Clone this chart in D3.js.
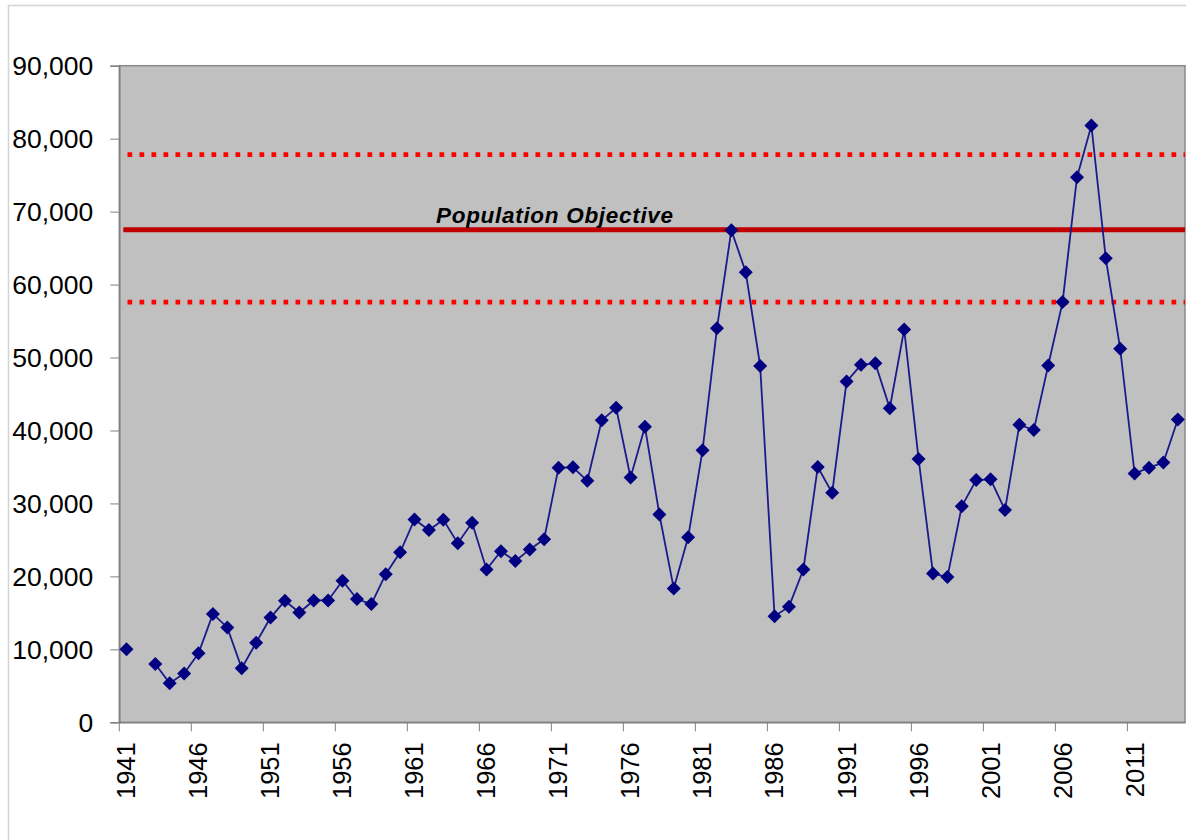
<!DOCTYPE html>
<meta charset="utf-8">
<style>
body { margin: 0; background: #fff; }
.axis text { font-family: "Liberation Sans", Arial, sans-serif; fill: #000; }
.axis path, .axis line { stroke: #808080; }
</style>
<body>
<script src="https://d3js.org/d3.v7.min.js"></script>
<script>

// yearly counts, 1942 has no value
var years = d3.range(1941, 2015);
var counts = [
  10000, null, 8000, 5350, 6700, 9450, 14850, 13000, 7400, 10900,
  14350, 16650, 15050, 16700, 16700, 19400, 16900, 16200, 20300, 23300,
  27800, 26350, 27750, 24550, 27350, 20950, 23450, 22100, 23700, 25100,
  34900, 34950, 33100, 41400, 43100, 33550, 40500, 28500, 18350, 25350,
  37300, 54000, 67450, 61700, 48850, 14550, 15850, 20950, 35000, 31450,
  46700, 49000, 49200, 43050, 53850, 36100, 20400, 19900, 29600, 33200,
  33300, 29100, 40800, 40050, 48900, 57600, 74700, 81800, 63600, 51200,
  34100, 34900, 35600, 41500
];
var labelYears = d3.range(1941, 2015, 5);
var yTicks = d3.range(0, 90001, 10000);

var objective = 67500;
var bandLow = 57600, bandHigh = 77800;

var W = 1186, H = 840;
var plot = {left: 119.3, top: 65.7, right: 1185, bottom: 722.3};

var svg = d3.select("body").append("svg")
    .attr("width", W)
    .attr("height", H);

// chart frame
svg.append("path")
    .attr("d", "M8.5," + H + "V5.5H" + W)
    .attr("fill", "none")
    .attr("stroke", "#d4d4d4")
    .attr("stroke-width", 1.5);

var x = d3.scaleBand()
    .domain(years)
    .range([plot.left, plot.right])
    .paddingInner(0).paddingOuter(0);

var y = d3.scaleLinear()
    .domain([0, 90000])
    .range([plot.bottom, plot.top]);

// plot area
svg.append("rect")
    .attr("x", plot.left)
    .attr("y", plot.top)
    .attr("width", plot.right - plot.left)
    .attr("height", plot.bottom - plot.top)
    .attr("fill", "#c0c0c0")
    .attr("stroke", "#8a8a8a")
    .attr("stroke-width", 1.5);

// reference lines
svg.append("line")
    .attr("x1", plot.left + 4).attr("x2", plot.right)
    .attr("y1", y(objective)).attr("y2", y(objective))
    .attr("stroke", "#c00000")
    .attr("stroke-width", 5);

[bandLow, bandHigh].forEach(function(v) {
  svg.append("line")
      .attr("x1", x(1941) + x.bandwidth() / 2 + 1).attr("x2", plot.right)
      .attr("y1", y(v)).attr("y2", y(v))
      .attr("stroke", "#ff0000")
      .attr("stroke-width", 4.7)
      .attr("stroke-dasharray", "4.7,7.3");
});

svg.append("text")
    .attr("x", 436)
    .attr("y", y(objective) - 6.5)
    .attr("font-family", "'Liberation Sans', Arial, sans-serif")
    .attr("font-size", 22.5)
    .attr("font-weight", "bold")
    .attr("font-style", "italic")
    .attr("letter-spacing", 0.7)
    .text("Population Objective");

// y axis
svg.append("g")
    .attr("class", "axis")
    .attr("transform", "translate(" + plot.left + ",0)")
    .call(d3.axisLeft(y)
        .tickValues(yTicks)
        .tickSize(9)
        .tickPadding(17)
        .tickFormat(d3.format(",")))
    .call(function(g) {
      g.selectAll("text").attr("font-size", 26.5).attr("dy", "0.35em");
      g.select(".domain").attr("stroke-width", 1.5);
    });

// x axis: labels centred in categories, tick marks on boundaries
var xAxis = svg.append("g")
    .attr("class", "axis")
    .attr("transform", "translate(0," + plot.bottom + ")")
    .call(d3.axisBottom(x)
        .tickValues(labelYears)
        .tickSize(0)
        .tickPadding(0))
    .call(function(g) {
      g.select(".domain").attr("stroke-width", 1.5);
      g.selectAll("text")
          .attr("font-size", 25.5)
          .attr("transform", "rotate(-90)")
          .attr("text-anchor", "end")
          .attr("x", -20)
          .attr("y", 0)
          .attr("dy", "0.35em");
    });

xAxis.selectAll(".boundary")
    .data(labelYears)
    .enter().append("line")
      .attr("class", "boundary")
      .attr("x1", function(d) { return x(d); })
      .attr("x2", function(d) { return x(d); })
      .attr("y1", 0)
      .attr("y2", 9);

// series
var data = years.map(function(yr, i) { return {year: yr, value: counts[i]}; });
var cx = function(d) { return x(d.year) + x.bandwidth() / 2; };

var line = d3.line()
    .defined(function(d) { return d.value != null; })
    .x(cx)
    .y(function(d) { return y(d.value); });

svg.append("path")
    .datum(data)
    .attr("fill", "none")
    .attr("stroke", "#1a1a8c")
    .attr("stroke-width", 1.8)
    .attr("d", line);

svg.selectAll(".pt")
    .data(data.filter(function(d) { return d.value != null; }))
    .enter().append("path")
      .attr("class", "pt")
      .attr("d", d3.symbol().type(d3.symbolSquare).size(98))
      .attr("transform", function(d) {
        return "translate(" + cx(d) + "," + y(d.value) + ") rotate(45)";
      })
      .attr("fill", "#000080");

</script>
</body>
